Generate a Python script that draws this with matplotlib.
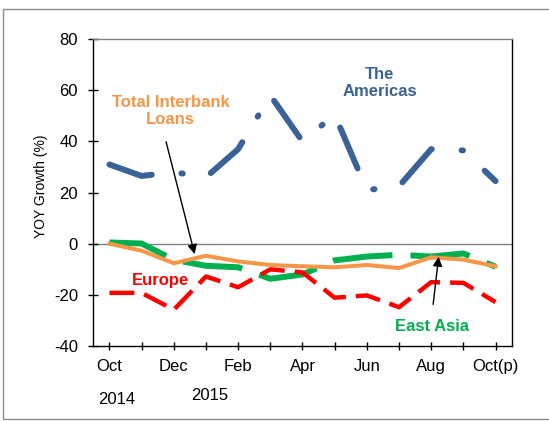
import matplotlib.pyplot as plt
from matplotlib.patches import Rectangle

plt.rcParams['font.family'] = ['Liberation Sans', 'DejaVu Sans']
plt.rcParams['lines.scale_dashes'] = False
plt.rcParams['axes.unicode_minus'] = False

# monthly data, Oct 2014 .. Oct 2015 (p)
months = ['Oct', 'Nov', 'Dec', 'Jan', 'Feb', 'Mar', 'Apr', 'May', 'Jun', 'Jul', 'Aug', 'Sep', 'Oct(p)']
americas = [31, 26.5, 28, 26, 37, 58, 40, 50.5, 21, 22.5, 37, 36.5, 24.5]
east_asia = [0.5, 0.1, -6.3, -8.6, -9.2, -13.7, -12, -6.5, -5, -4.3, -5, -3.8, -9]
europe = [-19.2, -19.2, -25.8, -12.8, -17, -10, -11.2, -21.1, -20.2, -24.8, -15, -15.3, -22.8]
total = [0, -2.7, -7.6, -4.7, -6.9, -8.3, -8.8, -9.2, -8.3, -9.5, -5.3, -6.2, -8.8]

blue = '#3A6296'
orange = '#F79646'
green = '#00B050'
red = '#FF0000'

fig = plt.figure(figsize=(5.49, 4.21), dpi=100)
ax = fig.add_axes([0.170, 0.178, 0.762, 0.729])
x = list(range(len(months)))

ax.axhline(0, color='#808080', lw=1, zorder=1)
ax.plot(x, americas, color=blue, lw=4.3, linestyle=(0, (32, 21.5, 1, 21.5)),
        dash_capstyle='round', solid_joinstyle='round', zorder=2)
ax.plot(x, east_asia, color=green, lw=4.3, linestyle=(0, (43, 13)),
        dash_capstyle='butt', zorder=3)
ax.plot(x, europe, color=red, lw=3.2, linestyle=(0, (18, 7.2)),
        dash_capstyle='butt', zorder=4)
ax.plot(x, total, color=orange, lw=2.9, zorder=5)

ax.set_xlim(-0.5, 12.5)
ax.set_ylim(-40, 80)
ax.set_yticks(range(-40, 81, 20))
ax.set_xticks(x)
ax.set_xticklabels([m if i % 2 == 0 else '' for i, m in enumerate(months)])
ax.tick_params(axis='y', direction='inout', length=7, width=1, labelsize=12, pad=7.5)
ax.tick_params(axis='x', direction='inout', length=6, width=1, labelsize=12, pad=6)
ax.set_ylabel('YOY Growth (%)', fontsize=10)
ax.yaxis.set_label_coords(-0.108, 0.52)
for s in ax.spines.values():
    s.set_linewidth(1)
ax.spines['top'].set_color('#808080')

ax.text(8.41, 62.7, 'The\nAmericas', color=blue, fontsize=12, fontweight='bold',
        ha='center', va='center', linespacing=1.15)
ax.text(1.9, 51.9, 'Total Interbank\nLoans', color=orange, fontsize=12, fontweight='bold',
        ha='center', va='center', linespacing=1.15)
ax.text(1.59, -14.2, 'Europe', color=red, fontsize=12, fontweight='bold',
        ha='center', va='center')
ax.text(10.03, -32.2, 'East Asia', color=green, fontsize=12, fontweight='bold',
        ha='center', va='center')

ax.annotate('', xy=(2.67, -5.1), xytext=(1.74, 40.9),
            arrowprops=dict(arrowstyle='-|>', color='black', lw=1, mutation_scale=14),
            zorder=6)
ax.annotate('', xy=(10.24, -4.0), xytext=(10.05, -24.8),
            arrowprops=dict(arrowstyle='-|>', color='black', lw=1, mutation_scale=14),
            zorder=6)

fig.text(116.7 / 549, 1 - 399 / 421, '2014', fontsize=12, ha='center', va='center')
fig.text(210 / 549, 1 - 396 / 421, '2015', fontsize=12, ha='center', va='center')

fig.patches.append(Rectangle((3 / 549, 2 / 421), 1.0, 1 - 11 / 421, transform=fig.transFigure,
                             fill=False, edgecolor='#8C8C8C', lw=1))

fig.savefig('out.png', dpi=100)
